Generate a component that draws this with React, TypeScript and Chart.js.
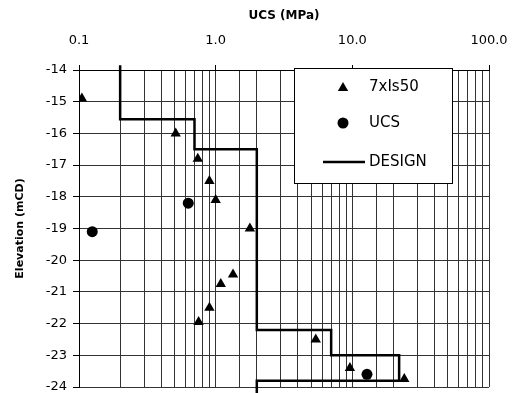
import React, { useEffect, useRef } from "react";
import { Chart, registerables } from "chart.js";

Chart.register(...registerables);

// ---- data ----
const is50X = [0.105, 0.51, 0.74, 0.9, 1.0, 1.78, 1.34, 1.09, 0.9, 0.75, 5.4, 9.6, 24];
const is50Y = [-14.9, -16.0, -16.8, -17.5, -18.1, -19.0, -20.45, -20.75, -21.5, -21.95, -22.5, -23.4, -23.75];

const ucsX = [0.125, 0.63, 12.8];
const ucsY = [-19.1, -18.2, -23.6];

const designX = [0.2, 0.2, 0.7, 0.7, 2.0, 2.0, 7.0, 7.0, 22, 22, 2.0, 2.0];
const designY = [-13.85, -15.55, -15.55, -16.5, -16.5, -22.2, -22.2, -23.0, -23.0, -23.8, -23.8, -24.2];

const decadeValues = [0.1, 1, 10, 100];
const decadeLabels = ["0.1", "1.0", "10.0", "100.0"];

const seriesNames = ["7xIs50", "UCS", "DESIGN"];

const isDecade = (v: number | undefined) =>
  v !== undefined && decadeValues.some((d) => Math.abs(d - v) / d < 1e-6);

const zeroPad = (s: any) => {
  s.paddingLeft = 0;
  s.paddingRight = 0;
  s.paddingTop = 0;
  s.paddingBottom = 0;
};

const legendPlugin = {
  id: "customLegend",
  afterDatasetsDraw(chart: any) {
    const ctx = chart.ctx as CanvasRenderingContext2D;
    const x0 = 294, y0 = 68, w = 158, h = 115;
    ctx.save();
    ctx.fillStyle = "#fff";
    ctx.fillRect(x0, y0, w, h);
    ctx.strokeStyle = "#000";
    ctx.lineWidth = 1;
    ctx.strokeRect(x0 + 0.5, y0 + 0.5, w, h);
    ctx.fillStyle = "#000";
    ctx.font = "15px 'DejaVu Sans'";
    ctx.textBaseline = "middle";
    ctx.textAlign = "left";
    // triangle
    const tx = 343, ty = 88, r = 6;
    ctx.beginPath();
    ctx.moveTo(tx, ty - r);
    ctx.lineTo(tx + r * Math.sin((2 * Math.PI) / 3), ty - r * Math.cos((2 * Math.PI) / 3));
    ctx.lineTo(tx + r * Math.sin((4 * Math.PI) / 3), ty - r * Math.cos((4 * Math.PI) / 3));
    ctx.closePath();
    ctx.fill();
    ctx.fillText(seriesNames[0], 369, 87);
    // circle
    ctx.beginPath();
    ctx.arc(343, 123, 5.5, 0, Math.PI * 2);
    ctx.fill();
    ctx.fillText(seriesNames[1], 369, 123);
    // line
    ctx.beginPath();
    ctx.lineWidth = 2.5;
    ctx.moveTo(323, 162);
    ctx.lineTo(365, 162);
    ctx.stroke();
    ctx.fillText(seriesNames[2], 369, 162);
    ctx.restore();
  },
};

export default function App() {
  const ref = useRef<HTMLCanvasElement | null>(null);
  useEffect(() => {
    document.body.style.margin = "0";
    const canvas = ref.current!;
    const chart = new Chart(canvas, {
      type: "scatter",
      data: {
        datasets: [
          {
            label: seriesNames[2],
            data: designX.map((x, i) => ({ x, y: designY[i] })),
            showLine: true,
            borderColor: "#000",
            borderWidth: 2.5,
            pointRadius: 0,
            fill: false,
            clip: false as any,
            order: 3,
          },
          {
            label: seriesNames[0],
            data: is50X.map((x, i) => ({ x, y: is50Y[i] })),
            pointStyle: "triangle",
            pointRadius: 6,
            backgroundColor: "#000",
            borderColor: "#000",
            borderWidth: 0,
            order: 1,
          },
          {
            label: seriesNames[1],
            data: ucsX.map((x, i) => ({ x, y: ucsY[i] })),
            pointStyle: "circle",
            pointRadius: 5.5,
            backgroundColor: "#000",
            borderColor: "#000",
            borderWidth: 0,
            order: 2,
          },
        ],
      },
      options: {
        animation: false,
        responsive: false,
        maintainAspectRatio: false,
        layout: { padding: { left: 0, right: 30, top: 0, bottom: 0 } },
        plugins: { legend: { display: false }, tooltip: { enabled: false } },
        scales: {
          x: {
            type: "logarithmic",
            position: "top",
            min: 0.1,
            max: 100,
            afterFit: (s: any) => {
              s.height = 70;
              zeroPad(s);
            },
            title: {
              display: true,
              text: "UCS (MPa)",
              color: "#000",
              font: { family: "'DejaVu Sans'", size: 12, weight: "bold" },
              padding: { top: 9, bottom: 0 },
            },
            ticks: {
              autoSkip: false,
              maxRotation: 0,
              color: "#000",
              padding: 17,
              font: { family: "'DejaVu Sans'", size: 13 },
              callback: (value: any) => {
                const v = Number(value);
                const i = decadeValues.findIndex((d) => Math.abs(d - v) / d < 1e-6);
                return i >= 0 ? decadeLabels[i] : "";
              },
            },
            grid: {
              color: "#333",
              lineWidth: 1,
              tickLength: 5,
              tickColor: (c: any) => (isDecade(c.tick?.value) ? "#000" : "rgba(0,0,0,0)"),
            },
            border: { display: true, color: "#000", width: 1 },
          },
          y: {
            type: "linear",
            min: -24,
            max: -14,
            afterFit: (s: any) => {
              s.width = 79;
              zeroPad(s);
            },
            title: {
              display: true,
              text: "Elevation (mCD)",
              color: "#000",
              font: { family: "'DejaVu Sans'", size: 11, weight: "bold" },
              padding: { top: 14, bottom: 0 },
            },
            ticks: {
              stepSize: 1,
              color: "#000",
              padding: 6,
              font: { family: "'DejaVu Sans'", size: 13 },
            },
            grid: { color: "#333", lineWidth: 1, tickLength: 6, tickColor: "#000" },
            border: { display: true, color: "#000", width: 1 },
          },
        },
      },
      plugins: [legendPlugin],
    });
    return () => chart.destroy();
  }, []);
  return <canvas ref={ref} width={519} height={393} style={{ display: "block" }} />;
}
